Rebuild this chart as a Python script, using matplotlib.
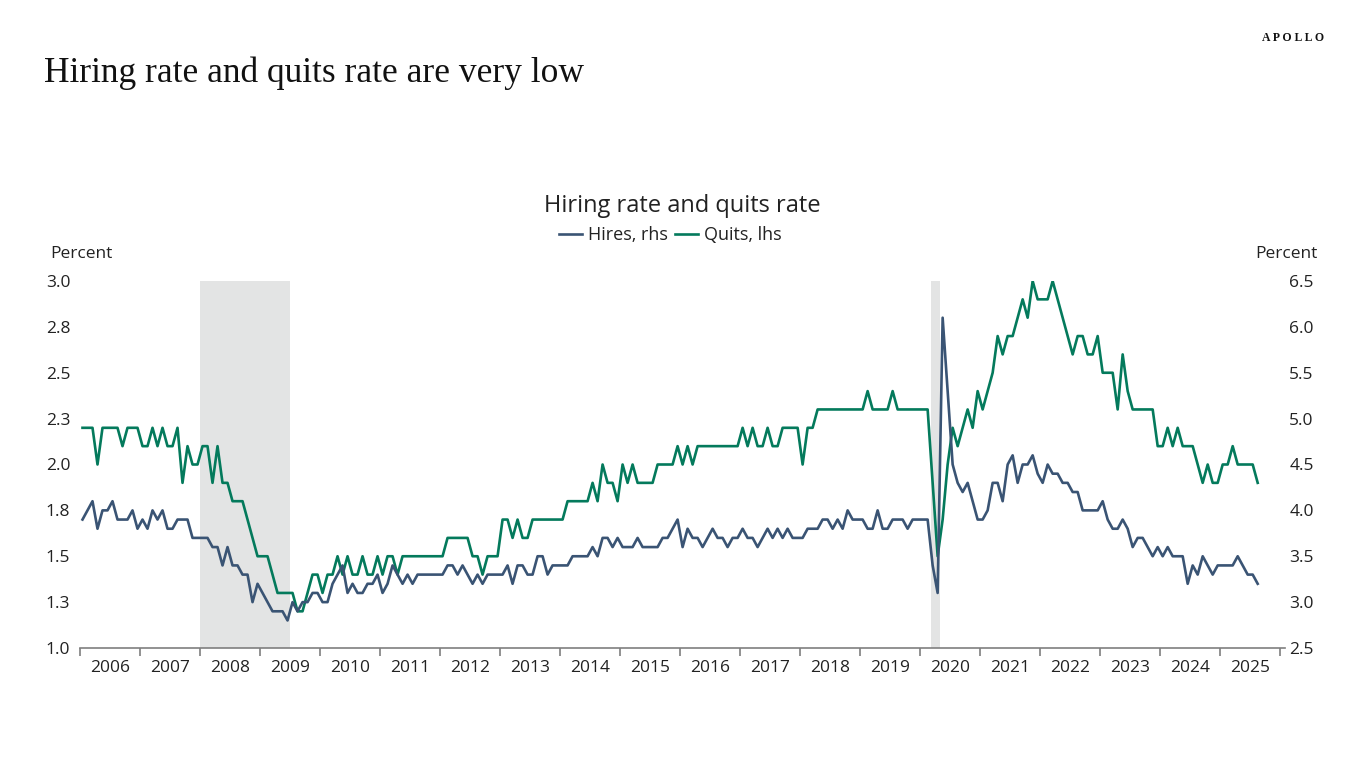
import numpy as np
from matplotlib import pyplot as plt
from matplotlib.ticker import FixedLocator, NullFormatter

# monthly values, Jan 2006 .. Aug 2025 (percent)
quits = [
  2.2, 2.2, 2.2, 2.0, 2.2, 2.2, 2.2, 2.2, 2.1, 2.2, 2.2, 2.2,  # 2006
  2.1, 2.1, 2.2, 2.1, 2.2, 2.1, 2.1, 2.2, 1.9, 2.1, 2.0, 2.0,  # 2007
  2.1, 2.1, 1.9, 2.1, 1.9, 1.9, 1.8, 1.8, 1.8, 1.7, 1.6, 1.5,  # 2008
  1.5, 1.5, 1.4, 1.3, 1.3, 1.3, 1.3, 1.2, 1.2, 1.3, 1.4, 1.4,  # 2009
  1.3, 1.4, 1.4, 1.5, 1.4, 1.5, 1.4, 1.4, 1.5, 1.4, 1.4, 1.5,  # 2010
  1.4, 1.5, 1.5, 1.4, 1.5, 1.5, 1.5, 1.5, 1.5, 1.5, 1.5, 1.5,  # 2011
  1.5, 1.6, 1.6, 1.6, 1.6, 1.6, 1.5, 1.5, 1.4, 1.5, 1.5, 1.5,  # 2012
  1.7, 1.7, 1.6, 1.7, 1.6, 1.6, 1.7, 1.7, 1.7, 1.7, 1.7, 1.7,  # 2013
  1.7, 1.8, 1.8, 1.8, 1.8, 1.8, 1.9, 1.8, 2.0, 1.9, 1.9, 1.8,  # 2014
  2.0, 1.9, 2.0, 1.9, 1.9, 1.9, 1.9, 2.0, 2.0, 2.0, 2.0, 2.1,  # 2015
  2.0, 2.1, 2.0, 2.1, 2.1, 2.1, 2.1, 2.1, 2.1, 2.1, 2.1, 2.1,  # 2016
  2.2, 2.1, 2.2, 2.1, 2.1, 2.2, 2.1, 2.1, 2.2, 2.2, 2.2, 2.2,  # 2017
  2.0, 2.2, 2.2, 2.3, 2.3, 2.3, 2.3, 2.3, 2.3, 2.3, 2.3, 2.3,  # 2018
  2.3, 2.4, 2.3, 2.3, 2.3, 2.3, 2.4, 2.3, 2.3, 2.3, 2.3, 2.3,  # 2019
  2.3, 2.3, 1.9, 1.5, 1.7, 2.0, 2.2, 2.1, 2.2, 2.3, 2.2, 2.4,  # 2020
  2.3, 2.4, 2.5, 2.7, 2.6, 2.7, 2.7, 2.8, 2.9, 2.8, 3.0, 2.9,  # 2021
  2.9, 2.9, 3.0, 2.9, 2.8, 2.7, 2.6, 2.7, 2.7, 2.6, 2.6, 2.7,  # 2022
  2.5, 2.5, 2.5, 2.3, 2.6, 2.4, 2.3, 2.3, 2.3, 2.3, 2.3, 2.1,  # 2023
  2.1, 2.2, 2.1, 2.2, 2.1, 2.1, 2.1, 2.0, 1.9, 2.0, 1.9, 1.9,  # 2024
  2.0, 2.0, 2.1, 2.0, 2.0, 2.0, 2.0, 1.9]                      # 2025

hires = [
  3.9, 4.0, 4.1, 3.8, 4.0, 4.0, 4.1, 3.9, 3.9, 3.9, 4.0, 3.8,  # 2006
  3.9, 3.8, 4.0, 3.9, 4.0, 3.8, 3.8, 3.9, 3.9, 3.9, 3.7, 3.7,  # 2007
  3.7, 3.7, 3.6, 3.6, 3.4, 3.6, 3.4, 3.4, 3.3, 3.3, 3.0, 3.2,  # 2008
  3.1, 3.0, 2.9, 2.9, 2.9, 2.8, 3.0, 2.9, 3.0, 3.0, 3.1, 3.1,  # 2009
  3.0, 3.0, 3.2, 3.3, 3.4, 3.1, 3.2, 3.1, 3.1, 3.2, 3.2, 3.3,  # 2010
  3.1, 3.2, 3.4, 3.3, 3.2, 3.3, 3.2, 3.3, 3.3, 3.3, 3.3, 3.3,  # 2011
  3.3, 3.4, 3.4, 3.3, 3.4, 3.3, 3.2, 3.3, 3.2, 3.3, 3.3, 3.3,  # 2012
  3.3, 3.4, 3.2, 3.4, 3.4, 3.3, 3.3, 3.5, 3.5, 3.3, 3.4, 3.4,  # 2013
  3.4, 3.4, 3.5, 3.5, 3.5, 3.5, 3.6, 3.5, 3.7, 3.7, 3.6, 3.7,  # 2014
  3.6, 3.6, 3.6, 3.7, 3.6, 3.6, 3.6, 3.6, 3.7, 3.7, 3.8, 3.9,  # 2015
  3.6, 3.8, 3.7, 3.7, 3.6, 3.7, 3.8, 3.7, 3.7, 3.6, 3.7, 3.7,  # 2016
  3.8, 3.7, 3.7, 3.6, 3.7, 3.8, 3.7, 3.8, 3.7, 3.8, 3.7, 3.7,  # 2017
  3.7, 3.8, 3.8, 3.8, 3.9, 3.9, 3.8, 3.9, 3.8, 4.0, 3.9, 3.9,  # 2018
  3.9, 3.8, 3.8, 4.0, 3.8, 3.8, 3.9, 3.9, 3.9, 3.8, 3.9, 3.9,  # 2019
  3.9, 3.9, 3.4, 3.1, 6.1, 5.3, 4.5, 4.3, 4.2, 4.3, 4.1, 3.9,  # 2020
  3.9, 4.0, 4.3, 4.3, 4.1, 4.5, 4.6, 4.3, 4.5, 4.5, 4.6, 4.4,  # 2021
  4.3, 4.5, 4.4, 4.4, 4.3, 4.3, 4.2, 4.2, 4.0, 4.0, 4.0, 4.0,  # 2022
  4.1, 3.9, 3.8, 3.8, 3.9, 3.8, 3.6, 3.7, 3.7, 3.6, 3.5, 3.6,  # 2023
  3.5, 3.6, 3.5, 3.5, 3.5, 3.2, 3.4, 3.3, 3.5, 3.4, 3.3, 3.4,  # 2024
  3.4, 3.4, 3.4, 3.5, 3.4, 3.3, 3.3, 3.2]                      # 2025

startYear = 2006
years = list(range(2006, 2026))
recessions = [(2008.0, 2009.5), (2020.18, 2020.33)]

leftTicks = [1.0, 1.25, 1.5, 1.75, 2.0, 2.25, 2.5, 2.75, 3.0]
leftTickLabels = ['1.0', '1.3', '1.5', '1.8', '2.0', '2.3', '2.5', '2.8', '3.0']
rightTicks = [2.5, 3.0, 3.5, 4.0, 4.5, 5.0, 5.5, 6.0, 6.5]
rightTickLabels = ['2.5', '3.0', '3.5', '4.0', '4.5', '5.0', '5.5', '6.0', '6.5']

hiresColor = '#3a5474'
quitsColor = '#047a5c'
shadeColor = '#e3e4e4'
textColor = '#222222'
sansFont = ['Open Sans', 'DejaVu Sans']
serifFont = ['Liberation Serif', 'DejaVu Serif']


def plotChart():
  fig = plt.figure(figsize=(13.66, 7.68), dpi=100)
  ax = fig.add_axes([80/1366., 1 - 648/768., 1205/1366., 367/768.])
  ax2 = ax.twinx()

  xs = startYear + (np.arange(len(quits)) + 0.5)/12.

  for r0, r1 in recessions:
    ax.axvspan(r0, r1, color=shadeColor, lw=0, zorder=0)

  lnQ, = ax.plot(xs, quits, color=quitsColor, lw=1.9, zorder=3)
  lnH, = ax2.plot(xs, hires, color=hiresColor, lw=1.9, zorder=3)

  ax.set_xlim(2006, 2026.08)
  ax.set_ylim(1.0, 3.0)
  ax2.set_ylim(2.5, 6.5)

  # year boundaries as ticks, labels in the middle of each year
  ax.xaxis.set_major_locator(FixedLocator(list(range(2006, 2027))))
  ax.xaxis.set_major_formatter(NullFormatter())
  ax.xaxis.set_minor_locator(FixedLocator([y + 0.5 for y in years]))
  ax.set_xticklabels([str(y) for y in years], minor=True)
  ax.tick_params(axis='x', which='major', length=6, width=1.2, color='#7f7f7f', direction='out')
  ax.tick_params(axis='x', which='minor', length=0, pad=9, labelsize=12.5, labelcolor=textColor)

  ax.set_yticks(leftTicks)
  ax.set_yticklabels(leftTickLabels)
  ax.tick_params(axis='y', length=0, pad=7, labelsize=12.5, labelcolor=textColor)
  ax2.set_yticks(rightTicks)
  ax2.set_yticklabels(rightTickLabels)
  ax2.tick_params(axis='y', length=0, pad=3, labelsize=12.5, labelcolor=textColor)

  for a in (ax, ax2):
    for s in ('top', 'left', 'right'):
      a.spines[s].set_visible(False)
    a.spines['bottom'].set_color('#7f7f7f')
    a.spines['bottom'].set_linewidth(1.2)
  ax2.spines['bottom'].set_visible(False)

  for lbl in ax.get_xticklabels(minor=True) + ax.get_yticklabels() + ax2.get_yticklabels():
    lbl.set_family(sansFont)

  fig.text(50/1366., 1 - 254/768., 'Percent', ha='left', va='center', fontsize=12.5,
           color=textColor, family=sansFont)
  fig.text(1318/1366., 1 - 254/768., 'Percent', ha='right', va='center', fontsize=12.5,
           color=textColor, family=sansFont)

  fig.text(682/1366., 1 - 206/768., 'Hiring rate and quits rate', ha='center', va='center',
           fontsize=17, color=textColor, family=sansFont)
  leg = fig.legend([lnH, lnQ], ['Hires, rhs', 'Quits, lhs'], loc='center',
                   bbox_to_anchor=(670/1366., 1 - 235/768.), ncol=2, frameon=False,
                   handlelength=1.3, handletextpad=0.3, columnspacing=0.4,
                   prop={'family': sansFont, 'size': 13})
  for t in leg.get_texts():
    t.set_color(textColor)

  fig.text(44/1366., 1 - 73/768., 'Hiring rate and quits rate are very low', ha='left',
           va='center', fontsize=25.5, color='#111111', family=serifFont)
  fig.text(1324/1366., 1 - 38/768., 'A P O L L O', ha='right', va='center', fontsize=8.5,
           color='#111111', family=serifFont, weight='bold')

  return fig


if __name__ == '__main__':
  fig = plotChart()
  fig.savefig('out.png', dpi=100)
